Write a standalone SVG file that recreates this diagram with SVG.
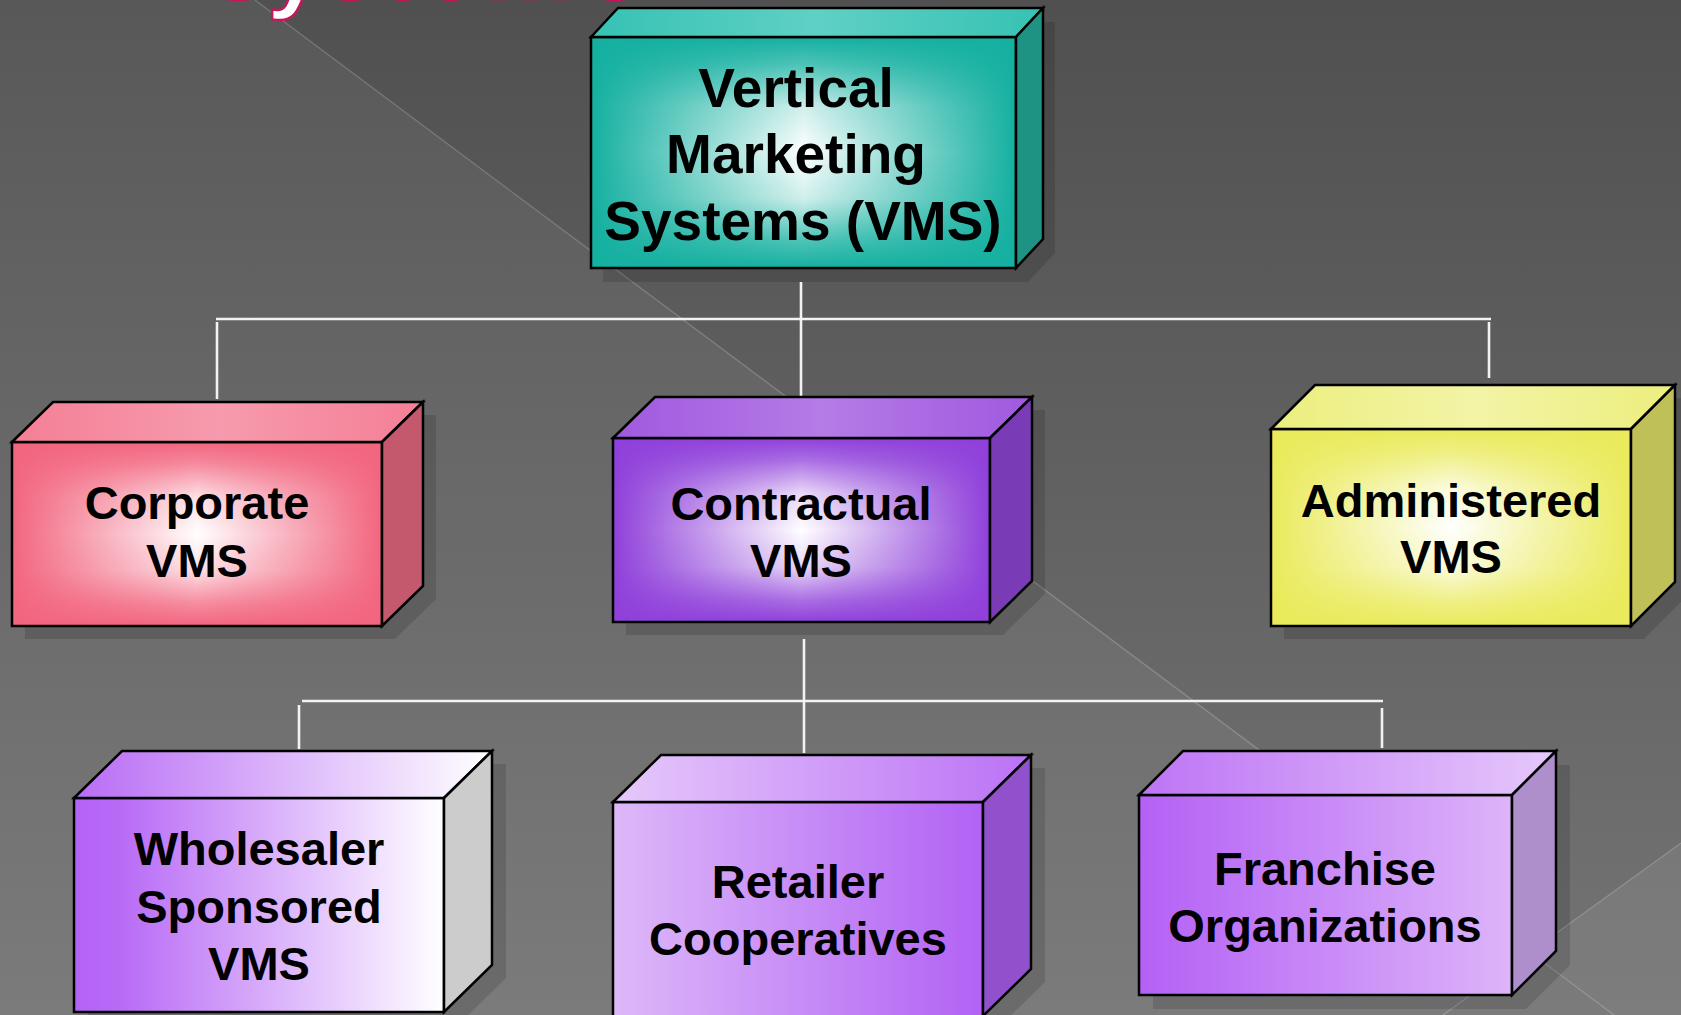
<svg xmlns="http://www.w3.org/2000/svg" width="1681" height="1015" viewBox="0 0 1681 1015">
  <defs>
    <style>
      .edge { stroke: #000; stroke-width: 2.5; stroke-linejoin: miter; }
      .shadow { fill: #000; fill-opacity: 0.13; }
      .label { font-family: "Liberation Sans", Arial, Helvetica, sans-serif; font-weight: bold; fill: #000; text-anchor: middle; }
      .l56 { font-size: 55px; }
      .l47 { font-size: 47px; }
      .wire { stroke: #f2f2f2; stroke-width: 2.6; fill: none; }
      .streak { stroke: #ffffff; stroke-opacity: 0.2; stroke-width: 1.3; fill: none; }
      .title { font-family: "Liberation Sans", Arial, sans-serif; font-weight: bold; font-size: 100px; fill: #ffffff; stroke: #c2185b; stroke-width: 2.5; }
    </style>

    <!-- backdrop -->
    <linearGradient id="bg" x1="0" y1="0" x2="0" y2="1">
      <stop offset="0" stop-color="#505050"/>
      <stop offset="1" stop-color="#747474"/>
    </linearGradient>

    <!-- teal -->
    <linearGradient id="tealH" x1="0" y1="0" x2="1" y2="0">
      <stop offset="0" stop-color="#14b0a0"/>
      <stop offset="0.5" stop-color="#ffffff"/>
      <stop offset="1" stop-color="#14b0a0"/>
    </linearGradient>
    <linearGradient id="tealV" x1="0" y1="0" x2="0" y2="1">
      <stop offset="0" stop-color="#14b0a0" stop-opacity="1"/>
      <stop offset="0.12" stop-color="#14b0a0" stop-opacity="0.75"/>
      <stop offset="0.3" stop-color="#14b0a0" stop-opacity="0.2"/>
      <stop offset="0.5" stop-color="#14b0a0" stop-opacity="0"/>
      <stop offset="0.7" stop-color="#14b0a0" stop-opacity="0.2"/>
      <stop offset="0.88" stop-color="#14b0a0" stop-opacity="0.75"/>
      <stop offset="1" stop-color="#14b0a0" stop-opacity="1"/>
    </linearGradient>
    <linearGradient id="tealTop" x1="0" y1="0" x2="1" y2="0">
      <stop offset="0" stop-color="#36c2b3"/>
      <stop offset="0.5" stop-color="#5fd0c4"/>
      <stop offset="1" stop-color="#36c2b3"/>
    </linearGradient>

    <!-- pink -->
    <linearGradient id="pinkH" x1="0" y1="0" x2="1" y2="0">
      <stop offset="0" stop-color="#f2657f"/>
      <stop offset="0.5" stop-color="#ffffff"/>
      <stop offset="1" stop-color="#f2657f"/>
    </linearGradient>
    <linearGradient id="pinkV" x1="0" y1="0" x2="0" y2="1">
      <stop offset="0" stop-color="#f2657f" stop-opacity="1"/>
      <stop offset="0.12" stop-color="#f2657f" stop-opacity="0.75"/>
      <stop offset="0.3" stop-color="#f2657f" stop-opacity="0.2"/>
      <stop offset="0.5" stop-color="#f2657f" stop-opacity="0"/>
      <stop offset="0.7" stop-color="#f2657f" stop-opacity="0.2"/>
      <stop offset="0.88" stop-color="#f2657f" stop-opacity="0.75"/>
      <stop offset="1" stop-color="#f2657f" stop-opacity="1"/>
    </linearGradient>
    <linearGradient id="pinkTop" x1="0" y1="0" x2="1" y2="0">
      <stop offset="0" stop-color="#f47f96"/>
      <stop offset="0.5" stop-color="#f79aad"/>
      <stop offset="1" stop-color="#f47f96"/>
    </linearGradient>

    <!-- violet -->
    <linearGradient id="violetH" x1="0" y1="0" x2="1" y2="0">
      <stop offset="0" stop-color="#8f40da"/>
      <stop offset="0.5" stop-color="#ffffff"/>
      <stop offset="1" stop-color="#8f40da"/>
    </linearGradient>
    <linearGradient id="violetV" x1="0" y1="0" x2="0" y2="1">
      <stop offset="0" stop-color="#8f40da" stop-opacity="1"/>
      <stop offset="0.12" stop-color="#8f40da" stop-opacity="0.75"/>
      <stop offset="0.3" stop-color="#8f40da" stop-opacity="0.2"/>
      <stop offset="0.5" stop-color="#8f40da" stop-opacity="0"/>
      <stop offset="0.7" stop-color="#8f40da" stop-opacity="0.2"/>
      <stop offset="0.88" stop-color="#8f40da" stop-opacity="0.75"/>
      <stop offset="1" stop-color="#8f40da" stop-opacity="1"/>
    </linearGradient>
    <linearGradient id="violetTop" x1="0" y1="0" x2="1" y2="0">
      <stop offset="0" stop-color="#a059df"/>
      <stop offset="0.5" stop-color="#b57be6"/>
      <stop offset="1" stop-color="#a059df"/>
    </linearGradient>

    <!-- yellow -->
    <linearGradient id="yellowH" x1="0" y1="0" x2="1" y2="0">
      <stop offset="0" stop-color="#eaea5c"/>
      <stop offset="0.5" stop-color="#ffffff"/>
      <stop offset="1" stop-color="#eaea5c"/>
    </linearGradient>
    <linearGradient id="yellowV" x1="0" y1="0" x2="0" y2="1">
      <stop offset="0" stop-color="#eaea5c" stop-opacity="1"/>
      <stop offset="0.12" stop-color="#eaea5c" stop-opacity="0.75"/>
      <stop offset="0.3" stop-color="#eaea5c" stop-opacity="0.2"/>
      <stop offset="0.5" stop-color="#eaea5c" stop-opacity="0"/>
      <stop offset="0.7" stop-color="#eaea5c" stop-opacity="0.2"/>
      <stop offset="0.88" stop-color="#eaea5c" stop-opacity="0.75"/>
      <stop offset="1" stop-color="#eaea5c" stop-opacity="1"/>
    </linearGradient>
    <linearGradient id="yellowTop" x1="0" y1="0" x2="1" y2="0">
      <stop offset="0" stop-color="#ecee7e"/>
      <stop offset="0.5" stop-color="#f3f4a6"/>
      <stop offset="1" stop-color="#ecee7e"/>
    </linearGradient>

    <!-- lilac ramps for the lower row -->
    <linearGradient id="wsFront" x1="0" y1="0" x2="1" y2="0">
      <stop offset="0" stop-color="#b462f6"/>
      <stop offset="0.12" stop-color="#b86af6"/>
      <stop offset="1" stop-color="#ffffff"/>
    </linearGradient>
    <linearGradient id="wsTop" x1="0" y1="0" x2="1" y2="0">
      <stop offset="0" stop-color="#b86cf5"/>
      <stop offset="1" stop-color="#ffffff"/>
    </linearGradient>
    <linearGradient id="rcFront" x1="0" y1="0" x2="1" y2="0">
      <stop offset="0" stop-color="#ddb8f9"/>
      <stop offset="1" stop-color="#b262f4"/>
    </linearGradient>
    <linearGradient id="rcTop" x1="0" y1="0" x2="1" y2="0">
      <stop offset="0" stop-color="#e6c8fb"/>
      <stop offset="1" stop-color="#bb72f5"/>
    </linearGradient>
    <linearGradient id="foFront" x1="0" y1="0" x2="1" y2="0">
      <stop offset="0" stop-color="#b460f5"/>
      <stop offset="1" stop-color="#ddb4f9"/>
    </linearGradient>
    <linearGradient id="foTop" x1="0" y1="0" x2="1" y2="0">
      <stop offset="0" stop-color="#bd74f5"/>
      <stop offset="1" stop-color="#e6c8fb"/>
    </linearGradient>
  </defs>

  <!-- backdrop with diagonal streaks -->
  <g id="backdrop">
    <rect x="0" y="0" width="1681" height="1015" fill="url(#bg)"/>
    <polygon points="0,0 255,0 1614,1015 0,1015" fill="#ffffff" fill-opacity="0.05"/>
    <polygon points="1530,952 1681,843 1681,1015 1614,1015" fill="#ffffff" fill-opacity="0.07"/>
    <line class="streak" x1="255" y1="0" x2="1614" y2="1015"/>
    <line class="streak" x1="1443" y1="1015" x2="1681" y2="843"/>
  </g>

  <!-- heading, running off the top edge -->
  <text class="title" x="204 267 322 381 422 486 587" y="-1">Systems</text>

  <!-- tree connectors -->
  <g id="connectors">
    <line class="wire" x1="801" y1="282" x2="801" y2="402"/>
    <line class="wire" x1="216" y1="319" x2="1491" y2="319"/>
    <line class="wire" x1="217" y1="322" x2="217" y2="399"/>
    <line class="wire" x1="1489" y1="322" x2="1489" y2="378"/>

    <line class="wire" x1="804" y1="639" x2="804" y2="753"/>
    <line class="wire" x1="302" y1="701" x2="1383" y2="701"/>
    <line class="wire" x1="299" y1="705" x2="299" y2="749"/>
    <line class="wire" x1="1382" y1="708" x2="1382" y2="748"/>
  </g>

  <!-- root: front 591..1016 x 37..268, depth 27/29 -->
  <g id="node-vms">
    <polygon class="shadow" transform="translate(12,14)" points="591,37 618,8 1043,8 1043,239 1016,268 591,268"/>
    <rect x="591" y="37" width="425" height="231" fill="url(#tealH)"/>
    <rect x="591" y="37" width="425" height="231" fill="url(#tealV)"/>
    <rect class="edge" x="591" y="37" width="425" height="231" fill="none"/>
    <polygon class="edge" points="591,37 618,8 1043,8 1016,37" fill="url(#tealTop)"/>
    <polygon class="edge" points="1016,37 1043,8 1043,239 1016,268" fill="#1f9383"/>
    <text class="label l56" x="796" y="107">Vertical</text>
    <text class="label l56" x="796" y="173">Marketing</text>
    <text class="label l56" x="803" y="240">Systems (VMS)</text>
  </g>

  <!-- Corporate: front 12..382 x 442..626, depth 41/40 -->
  <g id="node-corporate">
    <polygon class="shadow" transform="translate(13,13)" points="12,442 53,402 423,402 423,586 382,626 12,626"/>
    <rect x="12" y="442" width="370" height="184" fill="url(#pinkH)"/>
    <rect x="12" y="442" width="370" height="184" fill="url(#pinkV)"/>
    <rect class="edge" x="12" y="442" width="370" height="184" fill="none"/>
    <polygon class="edge" points="12,442 53,402 423,402 382,442" fill="url(#pinkTop)"/>
    <polygon class="edge" points="382,442 423,402 423,586 382,626" fill="#c4596d"/>
    <text class="label l47" x="197" y="519">Corporate</text>
    <text class="label l47" x="197" y="577">VMS</text>
  </g>

  <!-- Contractual: front 613..990 x 438..622, depth 42/41 -->
  <g id="node-contractual">
    <polygon class="shadow" transform="translate(13,13)" points="613,438 655,397 1032,397 1032,581 990,622 613,622"/>
    <rect x="613" y="438" width="377" height="184" fill="url(#violetH)"/>
    <rect x="613" y="438" width="377" height="184" fill="url(#violetV)"/>
    <rect class="edge" x="613" y="438" width="377" height="184" fill="none"/>
    <polygon class="edge" points="613,438 655,397 1032,397 990,438" fill="url(#violetTop)"/>
    <polygon class="edge" points="990,438 1032,397 1032,581 990,622" fill="#7a3bb6"/>
    <text class="label l47" x="801" y="520">Contractual</text>
    <text class="label l47" x="801" y="577">VMS</text>
  </g>

  <!-- Administered: front 1271..1631 x 429..626, depth 44/44 -->
  <g id="node-administered">
    <polygon class="shadow" transform="translate(13,13)" points="1271,429 1315,385 1675,385 1675,582 1631,626 1271,626"/>
    <rect x="1271" y="429" width="360" height="197" fill="url(#yellowH)"/>
    <rect x="1271" y="429" width="360" height="197" fill="url(#yellowV)"/>
    <rect class="edge" x="1271" y="429" width="360" height="197" fill="none"/>
    <polygon class="edge" points="1271,429 1315,385 1675,385 1631,429" fill="url(#yellowTop)"/>
    <polygon class="edge" points="1631,429 1675,385 1675,582 1631,626" fill="#c0c058"/>
    <text class="label l47" x="1451" y="517">Administered</text>
    <text class="label l47" x="1451" y="573">VMS</text>
  </g>

  <!-- Wholesaler Sponsored: front 74..444 x 798..1012, depth 48/47 -->
  <g id="node-wholesaler">
    <polygon class="shadow" transform="translate(14,13)" points="74,798 122,751 492,751 492,965 444,1012 74,1012"/>
    <rect class="edge" x="74" y="798" width="370" height="214" fill="url(#wsFront)"/>
    <polygon class="edge" points="74,798 122,751 492,751 444,798" fill="url(#wsTop)"/>
    <polygon class="edge" points="444,798 492,751 492,965 444,1012" fill="#cccccc"/>
    <text class="label l47" x="259" y="865">Wholesaler</text>
    <text class="label l47" x="259" y="923">Sponsored</text>
    <text class="label l47" x="259" y="980">VMS</text>
  </g>

  <!-- Retailer Cooperatives: front 613..983 x 802..(below edge), depth 48/47 -->
  <g id="node-retailer">
    <polygon class="shadow" transform="translate(14,13)" points="613,802 661,755 1031,755 1031,969 983,1016 613,1016"/>
    <rect class="edge" x="613" y="802" width="370" height="216" fill="url(#rcFront)"/>
    <polygon class="edge" points="613,802 661,755 1031,755 983,802" fill="url(#rcTop)"/>
    <polygon class="edge" points="983,802 1031,755 1031,969 983,1016" fill="#9150cc"/>
    <text class="label l47" x="798" y="898">Retailer</text>
    <text class="label l47" x="798" y="955">Cooperatives</text>
  </g>

  <!-- Franchise Organizations: front 1139..1512 x 795..995, depth 44/44 -->
  <g id="node-franchise">
    <polygon class="shadow" transform="translate(14,14)" points="1139,795 1183,751 1556,751 1556,951 1512,995 1139,995"/>
    <rect class="edge" x="1139" y="795" width="373" height="200" fill="url(#foFront)"/>
    <polygon class="edge" points="1139,795 1183,751 1556,751 1512,795" fill="url(#foTop)"/>
    <polygon class="edge" points="1512,795 1556,751 1556,951 1512,995" fill="#ae8ecb"/>
    <text class="label l47" x="1325" y="885">Franchise</text>
    <text class="label l47" x="1325" y="942">Organizations</text>
  </g>
</svg>
